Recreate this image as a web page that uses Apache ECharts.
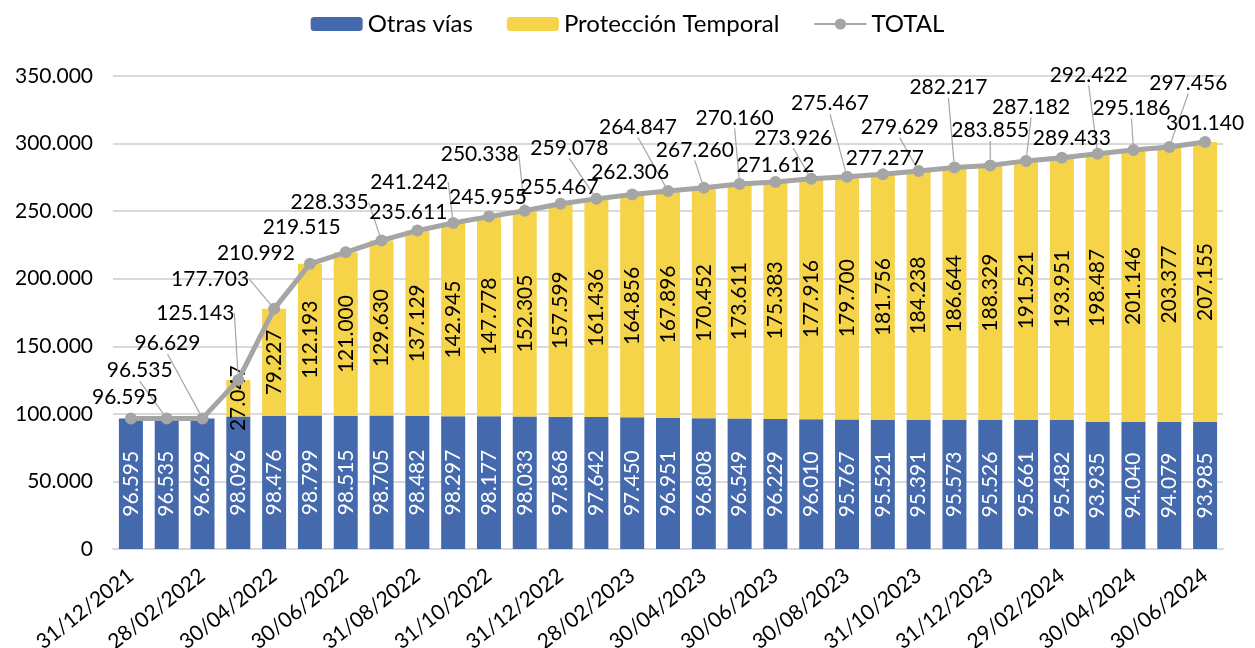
<!DOCTYPE html>
<html><head><meta charset="utf-8">
<script src="https://cdn.jsdelivr.net/npm/echarts@6/dist/echarts.min.js"></script>
<style>html,body{margin:0;padding:0;background:#fff}#c{width:1255px;height:648px}</style>
</head><body><div id="c"></div>
<script>
const categories = ['31/12/2021','31/01/2022','28/02/2022','31/03/2022','30/04/2022','31/05/2022','30/06/2022','31/07/2022','31/08/2022','30/09/2022','31/10/2022','30/11/2022','31/12/2022','31/01/2023','28/02/2023','31/03/2023','30/04/2023','31/05/2023','30/06/2023','31/07/2023','30/08/2023','30/09/2023','31/10/2023','30/11/2023','31/12/2023','31/01/2024','29/02/2024','31/03/2024','30/04/2024','31/05/2024','30/06/2024'];
const otrasVias = [96595,96535,96629,98096,98476,98799,98515,98705,98482,98297,98177,98033,97868,97642,97450,96951,96808,96549,96229,96010,95767,95521,95391,95573,95526,95661,95482,93935,94040,94079,93985];
const proteccionTemporal = [0,0,0,27047,79227,112193,121000,129630,137129,142945,147778,152305,157599,161436,164856,167896,170452,173611,175383,177916,179700,181756,184238,186644,188329,191521,193951,198487,201146,203377,207155];
const total = [96595,96535,96629,125143,177703,210992,219515,228335,235611,241242,245955,250338,255467,259078,262306,264847,267260,270160,271612,273926,275467,277277,279629,282217,283855,287182,289433,292422,295186,297456,301140];
const yTicks = [0,50000,100000,150000,200000,250000,300000,350000];

// label placement (style): offsets of TOTAL labels from their points, px
const totalLabelOffsets = [[-6,-21],[-27,-48],[-35,-75],[-43,-67],[-64,-30],[-54,-11],[-44,-25],[-52,-38],[-9,-18],[-44,-41],[-1,-19],[-45,-56],[-1,-17],[-27,-51],[-2,-22],[-30,-64],[-9,-38],[-5,-66],[0,-17],[-18,-41],[-17,-73],[2,-16],[-19,-44],[-6,-80],[0,-35],[5,-54],[10,-20],[-9,-79],[-2,-42],[19,-64],[0,-19]];
const leaderIdx = [1,2,3,4,7,9,11,13,15,16,17,19,20,22,23,24,25,27,28,29];

const FONT = 'Lato';
function fmt(v){ return String(v).replace(/\B(?=(\d{3})+(?!\d))/g,'.'); }

const chart = echarts.init(document.getElementById('c'), null, {renderer:'canvas'});
chart.setOption({
  animation:false,
  textStyle:{fontFamily:FONT},
  legend:{
    top:7, left:'center', itemWidth:52, itemHeight:14, itemGap:34,
    textStyle:{fontFamily:FONT, fontSize:24, color:'#000'},
    data:['Otras vías','Protección Temporal','TOTAL']
  },
  grid:{left:113, right:32, top:76, bottom:99, containLabel:false, outerBoundsMode:'none'},
  xAxis:{
    type:'category', data:categories,
    axisLine:{lineStyle:{color:'#D9D9D9', width:2}},
    axisTick:{show:false},
    axisLabel:{interval:1, rotate:38, fontFamily:FONT, fontSize:21, color:'#000', margin:24}
  },
  yAxis:{
    type:'value', min:yTicks[0], max:yTicks[yTicks.length-1], interval:yTicks[1]-yTicks[0],
    axisLine:{show:false}, axisTick:{show:false},
    splitLine:{lineStyle:{color:'#D9D9D9', width:2}},
    axisLabel:{formatter:fmt, fontFamily:FONT, fontSize:21, color:'#000', margin:20}
  },
  series:[
    {
      name:'Otras vías', type:'bar', stack:'t', data:otrasVias, barCategoryGap:'33%',
      itemStyle:{color:'#4569AD'},
      label:{show:true, position:'inside', rotate:90, color:'#ffffff', fontFamily:FONT, fontSize:21,
        formatter:p=>fmt(p.value)}
    },
    {
      name:'Protección Temporal', type:'bar', stack:'t', data:proteccionTemporal,
      itemStyle:{color:'#F6D44A'},
      label:{show:true, position:'inside', rotate:90, color:'#000000', fontFamily:FONT, fontSize:21,
        formatter:p=>p.value ? fmt(p.value) : ''}
    },
    {
      name:'TOTAL', type:'line', data:total.map((v,i)=>({value:v, labelLine:{show:leaderIdx.indexOf(i)>=0}})),
      z:5,
      lineStyle:{color:'#A5A5A5', width:5},
      itemStyle:{color:'#A5A5A5'},
      symbol:'circle', symbolSize:12,
      label:{show:true, position:'inside', color:'#000', fontFamily:FONT, fontSize:21,
        formatter:p=>fmt(p.value)},
      labelLine:{show:true, lineStyle:{color:'#A6A6A6', width:1.2}},
      labelLayout:function(p){ const o = totalLabelOffsets[p.dataIndex]; return {dx:o[0], dy:o[1]}; }
    }
  ]
});
</script></body></html>
